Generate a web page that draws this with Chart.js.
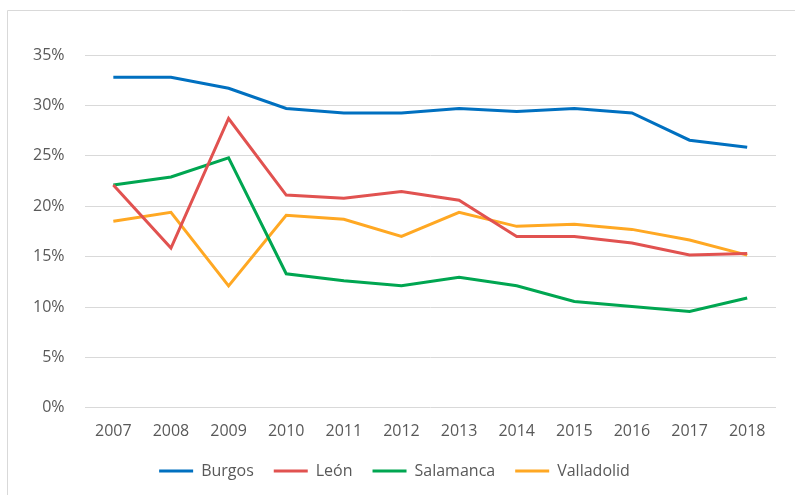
<!DOCTYPE html>
<html>
<head>
<meta charset="utf-8">
<script src="https://cdn.jsdelivr.net/npm/chart.js@4"></script>
<style>
  html, body { margin: 0; padding: 0; background: #fff; }
  #wrap { position: relative; width: 795px; height: 495px; }
</style>
</head>
<body>
<div id="wrap"><canvas id="chart" width="795" height="495"></canvas></div>
<script>
const years = ['2007', '2008', '2009', '2010', '2011', '2012', '2013', '2014', '2015', '2016', '2017', '2018'];
const burgos = [32.8, 32.8, 31.7, 29.7, 29.25, 29.25, 29.7, 29.4, 29.7, 29.25, 26.55, 25.85];
const leon = [22.1, 15.85, 28.7, 21.1, 20.8, 21.45, 20.6, 17.0, 17.0, 16.35, 15.15, 15.3];
const salamanca = [22.1, 22.9, 24.8, 13.3, 12.6, 12.1, 12.95, 12.1, 10.55, 10.05, 9.55, 10.9];
const valladolid = [18.5, 19.4, 12.1, 19.1, 18.7, 17.0, 19.4, 18.0, 18.2, 17.7, 16.65, 15.15];

const FONT = "'Open Sans', 'Liberation Sans', sans-serif";

function series(label, values, color) {
  return {
    label: label,
    data: values,
    borderColor: color,
    backgroundColor: color,
    borderWidth: 3,
    pointRadius: 0,
    pointHoverRadius: 0,
    tension: 0,
    pointStyle: 'line'
  };
}

// chart area frame (only top/left edge shows in the picture)
const frame = {
  id: 'frame',
  beforeDraw(chart) {
    const c = chart.ctx;
    c.save();
    c.strokeStyle = '#d9d9d9';
    c.lineWidth = 1;
    c.beginPath();
    c.moveTo(7.5, 600);
    c.lineTo(7.5, 10.5);
    c.lineTo(900, 10.5);
    c.stroke();
    c.restore();
  }
};

// legend sits closer to the axis labels than chart.js puts it
const legendSpot = {
  id: 'legendSpot',
  beforeInit(chart) {
    const fit = chart.legend.fit;
    chart.legend.fit = function () {
      fit.call(this);
      this.height -= 6;
    };
  },
  afterLayout(chart) {
    chart.legend.top -= 12;
    chart.legend.bottom -= 12;
  }
};

new Chart(document.getElementById('chart').getContext('2d'), {
  type: 'line',
  data: {
    labels: years,
    datasets: [
      series('Burgos', burgos, '#0070C0'),
      series('León', leon, '#E15250'),
      series('Salamanca', salamanca, '#00A651'),
      series('Valladolid', valladolid, '#FFA823')
    ]
  },
  options: {
    responsive: false,
    animation: false,
    layout: { padding: { left: 13, right: 19, top: 55, bottom: 0 } },
    plugins: {
      tooltip: { enabled: false },
      legend: {
        position: 'bottom',
        labels: {
          usePointStyle: true,
          pointStyleWidth: 34,
          boxHeight: 16,
          padding: 20,
          color: '#595959',
          font: { family: FONT, size: 16 }
        }
      }
    },
    scales: {
      x: {
        offset: true,
        grid: { display: false, drawTicks: false },
        border: { display: false },
        ticks: { color: '#595959', padding: 14, font: { family: FONT, size: 16 } }
      },
      y: {
        min: 0,
        max: 35,
        grid: { color: '#d9d9d9', lineWidth: 1, drawTicks: false },
        border: { display: false },
        ticks: {
          stepSize: 5,
          padding: 20,
          color: '#595959',
          font: { family: FONT, size: 16 },
          callback: v => v + '%'
        }
      }
    }
  },
  plugins: [frame, legendSpot]
});
</script>
</body>
</html>
